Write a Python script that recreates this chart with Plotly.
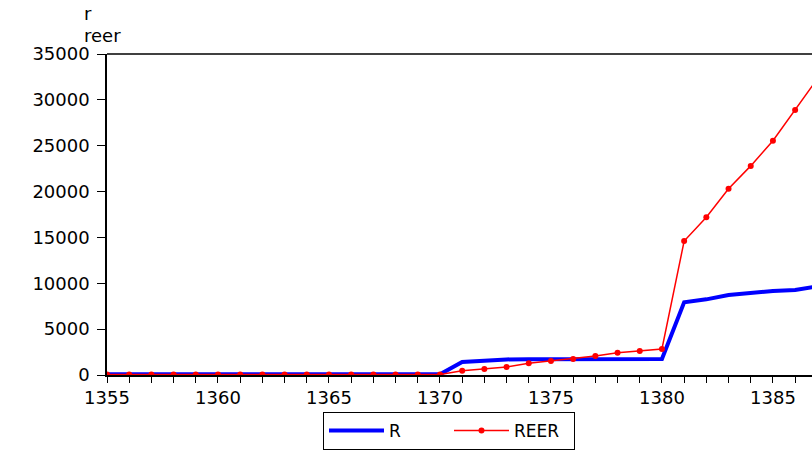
import plotly.graph_objects as go

years = list(range(1355, 1388))
r_vals = [70, 70, 70, 70, 70, 70, 70, 70, 70, 70, 70, 70, 70, 70, 70, 70,
          1420, 1600, 1700, 1730, 1740, 1750, 1750, 1750, 1750, 1750,
          7930, 8250, 8720, 8980, 9160, 9270, 9650]
reer_vals = [50, 50, 50, 50, 50, 50, 50, 50, 50, 50, 50, 50, 50, 50, 50, 50,
             470, 650, 870, 1270, 1530, 1740, 2070, 2430, 2620, 2840,
             14600, 17200, 20300, 22800, 25550, 28900, 32300]

W, H = 812, 451
PL, PT, PB = 107, 54, 375   # plot-area edges in pixels
PW, PHt = W - PL, PB - PT
FONT = "DejaVu Sans"


def px(xp):
    return (xp - PL) / PW


def py(yp):
    return (PB - yp) / PHt


fig = go.Figure()
fig.add_trace(go.Scatter(x=years, y=r_vals, name="R", mode="lines",
                         line=dict(color="#0000FF", width=4)))
fig.add_trace(go.Scatter(x=years, y=reer_vals, name="REER", mode="lines+markers",
                         line=dict(color="#FF0000", width=1.5),
                         marker=dict(color="#FF0000", size=6, symbol="circle")))

fig.update_layout(
    width=W, height=H,
    margin=dict(l=PL, r=0, t=PT, b=H - PB, pad=0, autoexpand=False),
    paper_bgcolor="white", plot_bgcolor="white",
    font=dict(family=FONT, size=18, color="black"),
    showlegend=True,
    legend=dict(orientation="h", x=px(323), xanchor="left",
                y=py(450), yanchor="bottom",
                bordercolor="black", borderwidth=1, bgcolor="white",
                font=dict(family=FONT, size=17), itemwidth=55,
                entrywidth=55, entrywidthmode="pixels",
                tracegroupgap=0),
    xaxis=dict(range=[1355, 1386.76], tickmode="linear", tick0=1355, dtick=5,
               automargin=False,
               showgrid=False, zeroline=False, showline=True, linecolor="black", linewidth=1.5,
               ticks="outside", ticklen=6, tickcolor="black", tickwidth=1,
               tickfont=dict(family=FONT, size=18), tickformat="d",
               minor=dict(dtick=1, ticks="outside", ticklen=6, tickcolor="black", showgrid=False)),
    yaxis=dict(range=[0, 35000], tickmode="linear", tick0=0, dtick=5000,
               automargin=False,
               showgrid=False, zeroline=False, showline=True, linecolor="black", linewidth=1.5,
               ticks="outside", ticklen=8, tickcolor="black", tickwidth=1,
               tickfont=dict(family=FONT, size=18), tickformat="d", ticklabelstandoff=4),
    shapes=[dict(type="line", xref="paper", yref="paper", x0=0, x1=1, y0=1, y1=1,
                 line=dict(color="black", width=1.5))],
    annotations=[
        dict(text="r", xref="paper", yref="paper", x=px(82), y=py(14),
             xanchor="left", yanchor="middle", showarrow=False, font=dict(family=FONT, size=18)),
        dict(text="reer", xref="paper", yref="paper", x=px(82), y=py(35),
             xanchor="left", yanchor="middle", showarrow=False, font=dict(family=FONT, size=18)),
    ],
)

fig.write_html("out.html", config={"displayModeBar": False},
               post_script="document.body.style.margin='0';document.body.style.overflow='hidden';")
